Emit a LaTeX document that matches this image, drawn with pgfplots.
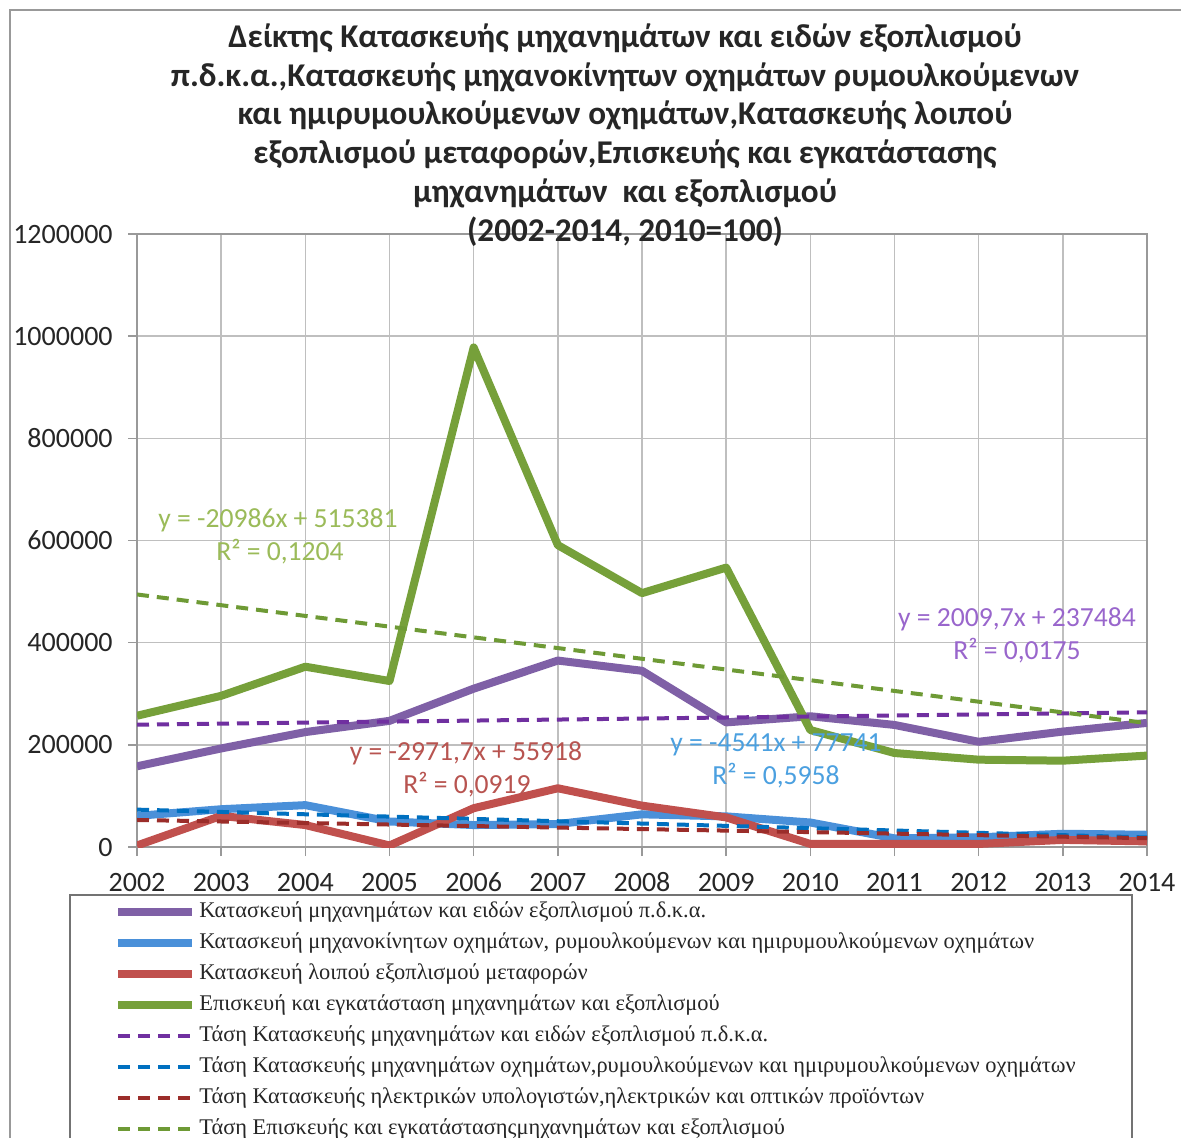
\documentclass[border=0pt]{standalone}
\usepackage{fontspec}
\setmainfont{Carlito}
\newfontfamily\legfont{Liberation Serif}
\usepackage{pgfplots}
\pgfplotsset{compat=1.18}
\definecolor{cpur}{HTML}{7F60A6}
\definecolor{cblu}{HTML}{4A90D9}
\definecolor{cred}{HTML}{C0504D}
\definecolor{cgrn}{HTML}{76A03A}
\definecolor{tpur}{HTML}{7030A0}
\definecolor{tblu}{HTML}{0070C0}
\definecolor{tred}{HTML}{9B2D2A}
\definecolor{tgrn}{HTML}{6E9A35}
\definecolor{agrn}{HTML}{9BBB59}
\definecolor{apur}{HTML}{9966CC}
\definecolor{ared}{HTML}{B85450}
\definecolor{ablu}{HTML}{4BA0E0}
\definecolor{gridc}{HTML}{BFBFBF}
\begin{document}
\begin{tikzpicture}[x=0.5pt,y=-0.5pt]
\useasboundingbox (0,0) rectangle (1181,1137);
\begin{scope}
\clip (0,0) rectangle (1181,1137);
\fill[white] (0,0) rectangle (1181,1137);
\draw[gray!80, line width=1.2pt] (1200,10) -- (10,10) -- (10,1200);
\begin{axis}[
  at={(68.5pt,-423.5pt)}, anchor=south west,
  scale only axis, width=505pt, height=306.5pt,
  xmin=2002, xmax=2014, ymin=0, ymax=1200000,
  xtick={2002,2003,...,2014},
  ytick={0,200000,400000,600000,800000,1000000,1200000},
  scaled y ticks=false,
  /pgf/number format/fixed,
  /pgf/number format/1000 sep={},
  /pgf/number format/assume math mode=true,
  grid=major, grid style={gridc, line width=0.8pt},
  axis line style={gridc!80!black, line width=0.8pt},
  tick style={gridc!80!black, line width=0.8pt},
  tick align=outside, major tick length=4.5pt,
  xtick pos=left, ytick pos=left,
  ticklabel style={font=\fontsize{14}{16}\selectfont, text=black!85},
  yticklabel style={inner sep=0pt, xshift=-7.5pt},
  xticklabel style={inner sep=0pt, yshift=-8pt, text height=9.6pt, text depth=0pt},
  every axis plot/.append style={line join=round},
  legend image code/.code={\draw[#1] (0pt,0pt) -- (37pt,0pt);},
  legend cell align=left,
  legend style={at={(rel axis cs:-0.0228,-0.0882)}, anchor=north west,
    draw=none, fill=none, inner sep=0pt,
    font=\legfont\fontsize{11.2}{13}\selectfont, text=black!85,
    row sep=5pt,
    nodes={inner xsep=1.5pt, inner ysep=0pt, text height=8pt, text depth=2.5pt}},
]
\addplot[cpur, line width=4pt] coordinates {(2002,158000)(2003,193000)(2004,225000)(2005,247000)(2006,310000)(2007,365000)(2008,345000)(2009,244000)(2010,256000)(2011,239000)(2012,206000)(2013,226000)(2014,243000)};
\addlegendentry{Κατασκευή μηχανημάτων και ειδών εξοπλισμού π.δ.κ.α.}
\addplot[cblu, line width=4pt] coordinates {(2002,61000)(2003,74000)(2004,82000)(2005,50000)(2006,43000)(2007,45000)(2008,64000)(2009,60000)(2010,48000)(2011,17000)(2012,19000)(2013,26000)(2014,24000)};
\addlegendentry{Κατασκευή μηχανοκίνητων οχημάτων, ρυμουλκούμενων και ημιρυμουλκούμενων οχημάτων}
\addplot[cred, line width=4pt] coordinates {(2002,3000)(2003,61000)(2004,43000)(2005,3000)(2006,76000)(2007,115000)(2008,81000)(2009,58000)(2010,6000)(2011,6000)(2012,6000)(2013,14000)(2014,11000)};
\addlegendentry{Κατασκευή λοιπού εξοπλισμού μεταφορών}
\addplot[cgrn, line width=4pt] coordinates {(2002,257000)(2003,296000)(2004,353000)(2005,325000)(2006,978000)(2007,591000)(2008,497000)(2009,547000)(2010,229000)(2011,184000)(2012,171000)(2013,169000)(2014,179000)};
\addlegendentry{Επισκευή και εγκατάσταση μηχανημάτων και εξοπλισμού}
\addplot[tpur, line width=2pt, dash pattern=on 6pt off 4pt] coordinates {(2002,239494)(2014,263610)};
\addlegendentry{Τάση Κατασκευής μηχανημάτων και ειδών εξοπλισμού π.δ.κ.α.}
\addplot[tblu, line width=2pt, dash pattern=on 6pt off 4pt] coordinates {(2002,73200)(2014,18708)};
\addlegendentry{Τάση Κατασκευής μηχανημάτων οχημάτων,ρυμουλκούμενων και ημιρυμουλκούμενων οχημάτων}
\addplot[tred, line width=2pt, dash pattern=on 6pt off 4pt] coordinates {(2002,52946)(2014,17286)};
\addlegendentry{Τάση Κατασκευής ηλεκτρικών υπολογιστών,ηλεκτρικών και οπτικών προϊόντων}
\addplot[tgrn, line width=2pt, dash pattern=on 6pt off 4pt] coordinates {(2002,494395)(2014,242563)};
\addlegendentry{Τάση Επισκευής και εγκατάστασηςμηχανημάτων και εξοπλισμού}
\end{axis}
\draw[gray!90!black, line width=0.8pt] (70,895) rectangle (1132,1170);
% title
\begin{scope}[every node/.style={font=\bfseries\fontsize{16.6}{18}\selectfont, text=black!85, anchor=base, inner sep=0pt}]
\node at (625,47) {Δείκτης Κατασκευής μηχανημάτων και ειδών εξοπλισμού};
\node at (625,86) {π.δ.κ.α.,Κατασκευής μηχανοκίνητων οχημάτων ρυμουλκούμενων};
\node at (625,124) {και ημιρυμουλκούμενων οχημάτων,Κατασκευής λοιπού};
\node at (625,163) {εξοπλισμού μεταφορών,Επισκευής και εγκατάστασης};
\node at (625,202) {μηχανημάτων\ \ και εξοπλισμού};
\node at (625,241) {(2002-2014, 2010=100)};
\end{scope}
% trend equations
\begin{scope}[every node/.style={font=\fontsize{13.8}{15}\selectfont, inner sep=0pt}]
\node[text=agrn] at (278,520) {y = -20986x + 515381};
\node[text=agrn] at (280,552) {R² = 0,1204};
\node[text=apur] at (1017,619) {y = 2009,7x + 237484};
\node[text=apur] at (1017,651) {R² = 0,0175};
\node[text=ared] at (466,753) {y = -2971,7x + 55918};
\node[text=ared] at (467,785) {R² = 0,0919};
\node[text=ablu] at (776,745) {y = -4541x + 77741};
\node[text=ablu] at (776,776) {R² = 0,5958};
\end{scope}
\end{scope}
\end{tikzpicture}
\end{document}
